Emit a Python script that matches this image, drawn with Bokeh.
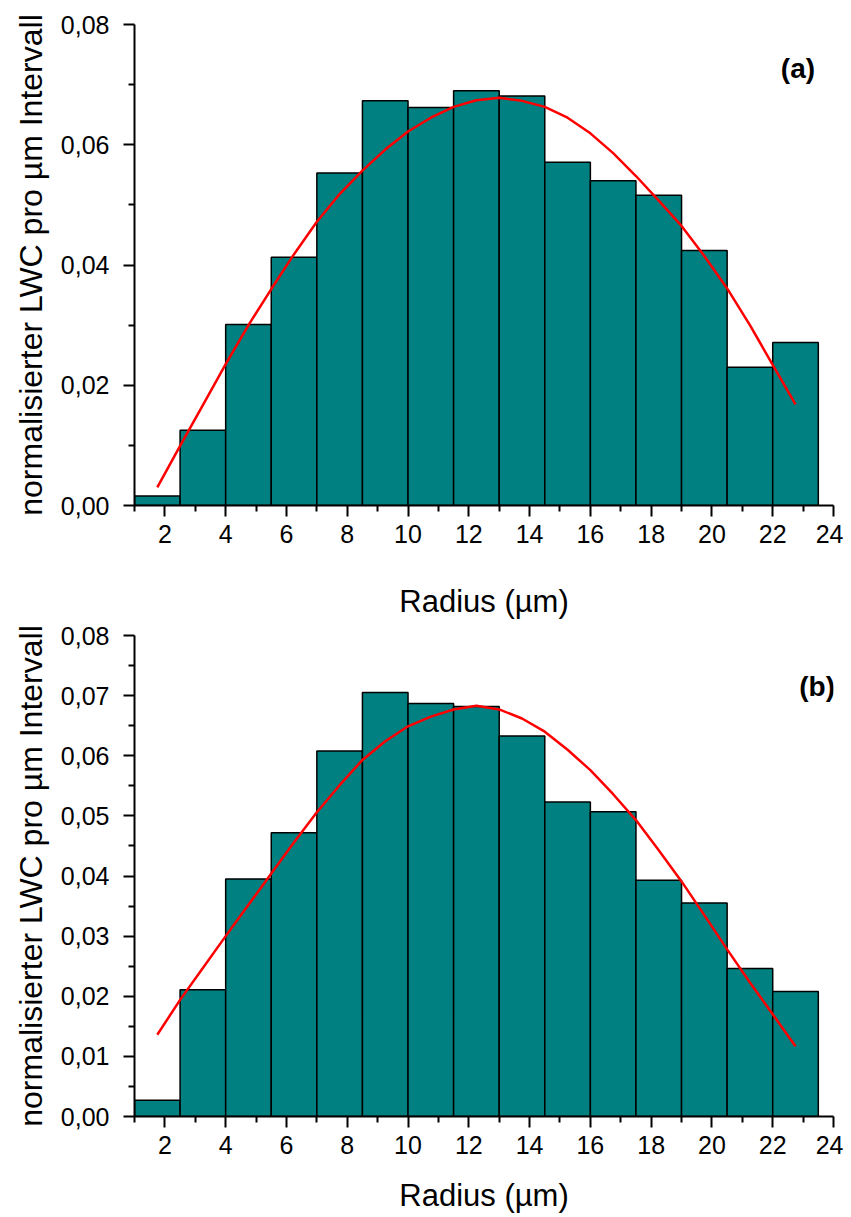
from bokeh.plotting import figure
from bokeh.layouts import column
from bokeh.models import FixedTicker, CustomJSTickFormatter, Label, Range1d
from bokeh.embed import file_html
from bokeh.resources import INLINE

# ---- data ----
bin_edges = [1.0, 2.5, 4.0, 5.5, 7.0, 8.5, 10.0, 11.5, 13.0, 14.5, 16.0, 17.5, 19.0, 20.5, 22.0, 23.5]
lwc_a = [0.0016, 0.0125, 0.0301, 0.0413, 0.0553, 0.0673, 0.0662, 0.0690, 0.0681,
         0.0571, 0.0540, 0.0516, 0.0424, 0.0230, 0.0271]
lwc_b = [0.0027, 0.0211, 0.0395, 0.0472, 0.0608, 0.0705, 0.0687, 0.0682, 0.0633,
         0.0523, 0.0507, 0.0393, 0.0355, 0.0246, 0.0208]

fit_r = [1.75, 2.5, 3.25, 4.0, 4.75, 5.5, 6.25, 7.0, 7.75, 8.5, 9.25, 10.0, 10.75, 11.5,
         12.25, 13.0, 13.75, 14.5, 15.25, 16.0, 16.75, 17.5, 18.25, 19.0, 19.75, 20.5,
         21.25, 22.0, 22.75]
fit_a = [0.0030, 0.0099, 0.0167, 0.0235, 0.0300, 0.0360, 0.0418, 0.0472, 0.0518, 0.0557,
         0.0592, 0.0622, 0.0645, 0.0663, 0.0674, 0.0678, 0.0673, 0.0663, 0.0645, 0.0619,
         0.0586, 0.0548, 0.0507, 0.0465, 0.0415, 0.0361, 0.0300, 0.0234, 0.0168]
fit_b = [0.0136, 0.0194, 0.0247, 0.0300, 0.0352, 0.0404, 0.0456, 0.0506, 0.0551, 0.0593,
         0.0624, 0.0649, 0.0665, 0.0677, 0.0683, 0.0677, 0.0662, 0.0640, 0.0610, 0.0576,
         0.0536, 0.0493, 0.0443, 0.0391, 0.0335, 0.0278, 0.0223, 0.0170, 0.0117]

x_ticks = [2, 4, 6, 8, 10, 12, 14, 16, 18, 20, 22, 24]
x_minor = [1, 3, 5, 7, 9, 11, 13, 15, 17, 19, 21, 23]
y_ticks_a = [0.0, 0.02, 0.04, 0.06, 0.08]
y_minor_a = [0.01, 0.03, 0.05, 0.07]
y_ticks_b = [0.0, 0.01, 0.02, 0.03, 0.04, 0.05, 0.06, 0.07, 0.08]
y_minor_b = [0.005, 0.015, 0.025, 0.035, 0.045, 0.055, 0.065, 0.075]

x_title = "Radius (µm)"
y_title = "normalisierter LWC pro µm Intervall"
panel_labels = ["(a)", "(b)"]

FONT = "Liberation Sans"
TEAL = "#008080"


def make_panel(values, fit, yt, ym, label, lx, ly, height, top_b, bot_b, xstand):
    p = figure(width=843, height=height, output_backend="svg", toolbar_location=None,
               x_range=Range1d(1, 24), y_range=Range1d(0, 0.08),
               min_border_left=134, min_border_right=10,
               min_border_top=top_b, min_border_bottom=bot_b)
    p.outline_line_color = None
    p.grid.visible = False
    p.background_fill_color = "white"
    p.border_fill_color = "white"

    p.quad(left=bin_edges[:-1], right=bin_edges[1:], bottom=0, top=values,
           fill_color=TEAL, line_color="black", line_width=1.5)
    p.line(fit_r, fit, line_color="#FF0000", line_width=2.5)

    for ax in (p.xaxis[0], p.yaxis[0]):
        ax.axis_line_width = 2
        ax.major_tick_line_width = 2
        ax.minor_tick_line_width = 2
        ax.major_tick_out = 11
        ax.major_tick_in = 0
        ax.minor_tick_out = 6
        ax.minor_tick_in = 0
        ax.major_label_text_font = FONT
        ax.major_label_text_font_size = "25px"
        ax.major_label_text_color = "black"
        ax.axis_label_text_font = FONT
        ax.axis_label_text_font_style = "normal"
        ax.axis_label_text_color = "black"

    p.xaxis.ticker = FixedTicker(ticks=x_ticks, minor_ticks=x_minor)
    p.xaxis.formatter = CustomJSTickFormatter(code="return tick.toFixed(0);")
    p.xaxis.axis_label = x_title
    p.xaxis.axis_label_text_font_size = "31px"
    p.xaxis.major_label_standoff = 8
    p.xaxis.axis_label_standoff = xstand

    p.yaxis.ticker = FixedTicker(ticks=yt, minor_ticks=ym)
    p.yaxis.formatter = CustomJSTickFormatter(code="return tick.toFixed(2).replace('.', ',');")
    p.yaxis.axis_label = y_title
    p.yaxis.axis_label_text_font_size = "32px"
    p.yaxis.major_label_standoff = 14
    p.yaxis.axis_label_standoff = 9

    p.add_layout(Label(x=lx, y=ly, text=label, text_font=FONT, text_font_size="28px",
                       text_font_style="bold", text_align="center", text_baseline="middle",
                       text_color="black"))
    return p


# panel (a): frame 24..506 ; panel (b): frame 635..1117
p1 = make_panel(lwc_a, fit_a, y_ticks_a, y_minor_a, panel_labels[0], 22.83, 0.0726,
                621, 24, 115, 38)
p2 = make_panel(lwc_b, fit_b, y_ticks_b, y_minor_b, panel_labels[1], 23.46, 0.0716,
                594, 14, 98, 21)

layout = column(p1, p2, spacing=0)
open("out.html", "w").write(file_html(layout, INLINE))
